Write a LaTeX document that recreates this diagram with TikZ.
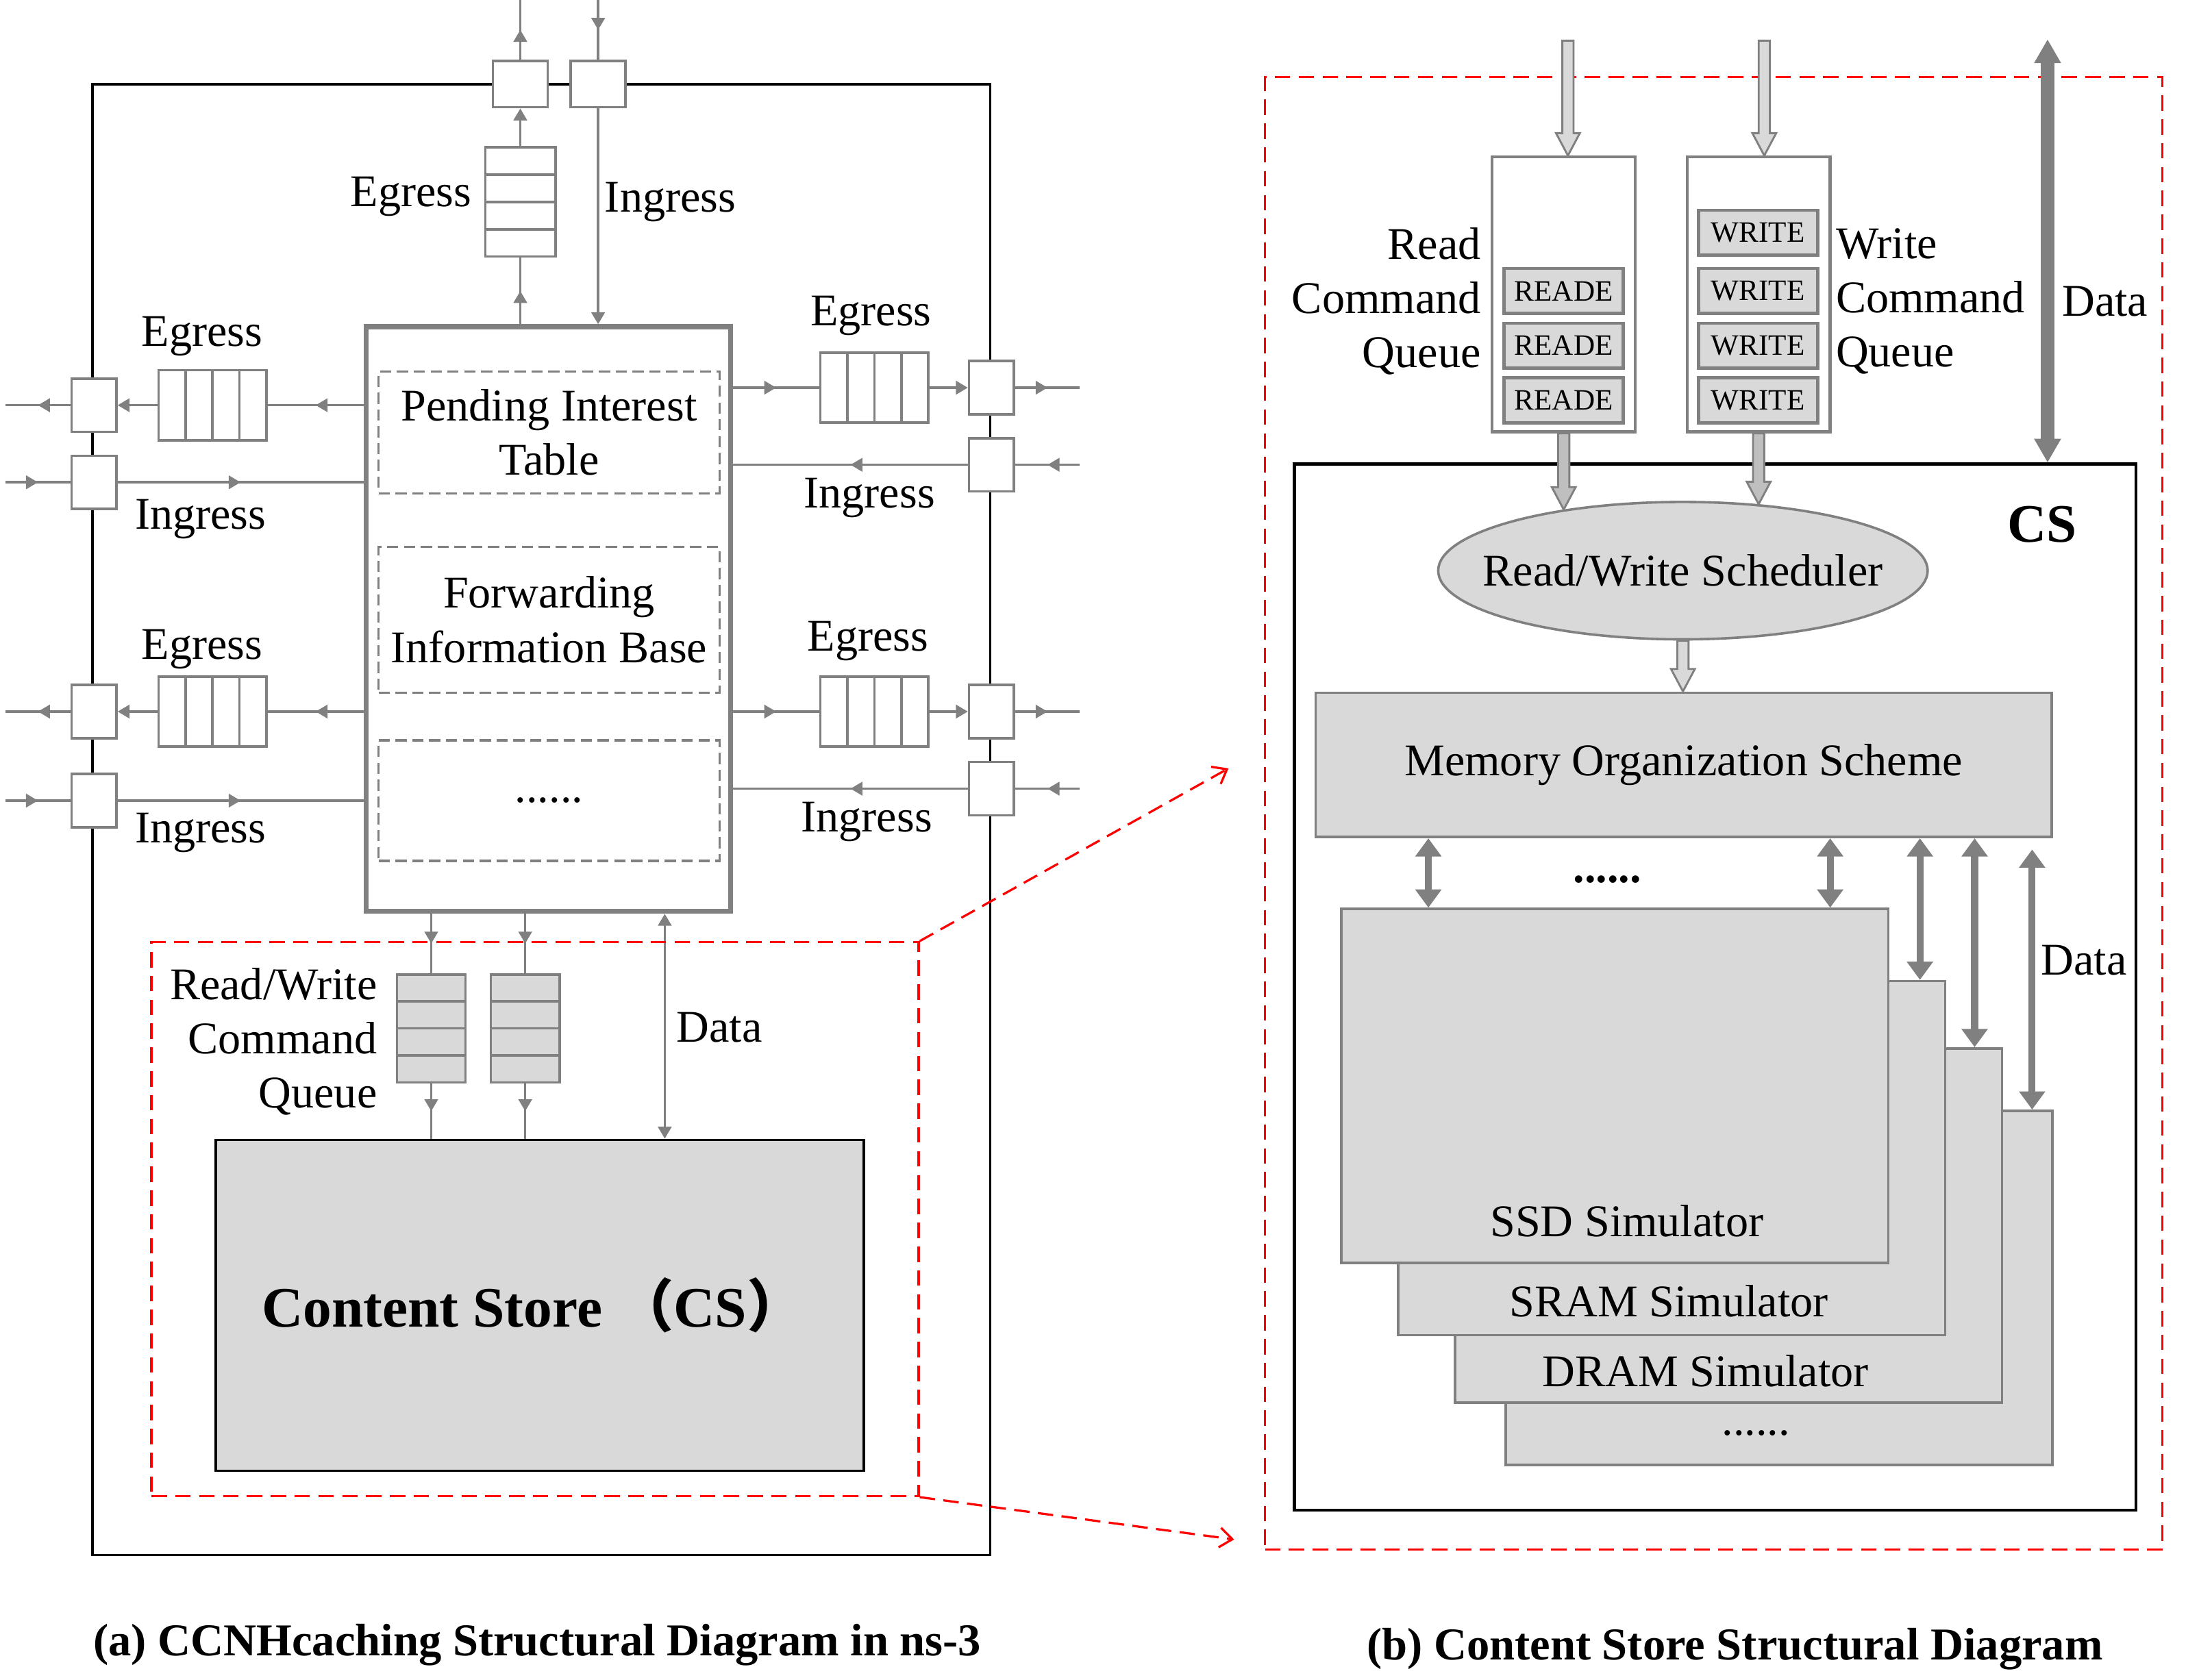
\documentclass[tikz,border=0pt]{standalone}
\usepackage{fontspec}
\setmainfont{Liberation Serif}
\newfontfamily\cjk{Noto Sans CJK SC}
\usetikzlibrary{arrows.meta,calc,decorations.markings,shapes.geometric}
\newcommand\lblfont{\fontsize{18.4}{22}\selectfont}
\newcommand\csfont{\bfseries\fontsize{22}{26}\selectfont}

\begin{document}
\begin{tikzpicture}[
  lbl/.style      = {font=\lblfont, inner sep=1pt, align=center},
  captext/.style  = {font=\bfseries\fontsize{18.5}{22}\selectfont, inner sep=0pt, anchor=base},
  routerbox/.style= {draw, line width=1pt, inner sep=0pt,
                     minimum width=12.8cm, minimum height=20.98cm},
  tablebox/.style = {draw=gray, line width=2pt, inner sep=0pt,
                     minimum width=5.2cm, minimum height=8.34cm},
  dashbox/.style  = {draw=gray, line width=0.9pt, dash pattern=on 1.6mm off 0.8mm,
                     inner sep=0pt, minimum width=4.86cm, font=\lblfont, align=center},
  sport/.style    = {draw=gray, line width=1pt, fill=white, inner sep=0pt,
                     minimum width=0.64cm, minimum height=0.76cm},
  tport/.style    = {sport, minimum width=0.78cm, minimum height=0.66cm},
  hqueue/.style   = {draw=gray, line width=1pt, fill=white, inner sep=0pt,
                     minimum width=1.54cm, minimum height=1cm,
                     path picture={\foreach \f in {0.25,0.5,0.75}
                       \draw[gray, line width=1pt]
                         ($(path picture bounding box.north west)!\f!(path picture bounding box.north east)$)
                      -- ($(path picture bounding box.south west)!\f!(path picture bounding box.south east)$);}},
  vqueue/.style   = {draw=gray, line width=1pt, fill=white, inner sep=0pt,
                     minimum width=1cm, minimum height=1.56cm,
                     path picture={\foreach \f in {0.25,0.5,0.75}
                       \draw[gray, line width=1pt]
                         ($(path picture bounding box.north west)!\f!(path picture bounding box.south west)$)
                      -- ($(path picture bounding box.north east)!\f!(path picture bounding box.south east)$);}},
  rwq/.style      = {vqueue, fill=gray!30, minimum width=0.98cm, minimum height=1.54cm},
  csbox/.style    = {draw, line width=1pt, fill=gray!30, inner sep=0pt,
                     minimum width=9.24cm, minimum height=4.72cm},
  redbox/.style   = {draw=red, line width=0.9pt, dash pattern=on 2.2mm off 1.2mm, inner sep=0pt},
  redlink/.style  = {red, line width=0.9pt, dash pattern=on 2.2mm off 1.2mm,
                     -{Straight Barb[length=1.8mm,width=2.8mm]}},
  gline/.style    = {gray, line width=1pt},
  garrow/.style   = {gline, -{Triangle[length=1.7mm,width=1.9mm]}},
  gboth/.style    = {gline, {Triangle[length=1.7mm,width=1.9mm]}-{Triangle[length=1.7mm,width=1.9mm]}},
  midarr/.style   = {gline, postaction={decorate}, decoration={markings,
                     mark=at position 0.5 with {\arrow{Triangle[length=1.7mm,width=1.9mm]}}}},
  % right panel
  csframe/.style  = {draw, line width=1.2pt, inner sep=0pt,
                     minimum width=12cm, minimum height=14.92cm},
  cmdq/.style     = {draw=gray, line width=1.2pt, fill=white, inner sep=0pt,
                     minimum width=2.04cm, minimum height=3.92cm},
  cmd/.style      = {draw=gray, line width=1.3pt, fill=gray!30, inner sep=0pt,
                     minimum width=1.7cm, minimum height=0.64cm,
                     font=\fontsize{12}{14}\selectfont},
  schedule/.style = {ellipse, draw=gray, line width=1pt, fill=gray!30, inner sep=0pt,
                     minimum width=6.98cm, minimum height=1.96cm},
  mosbox/.style   = {draw=gray, line width=1pt, fill=gray!30, inner sep=0pt,
                     minimum width=10.5cm, minimum height=2.06cm, font=\lblfont},
  simbox/.style   = {draw=gray, line width=1pt, fill=gray!30, inner sep=0pt,
                     minimum width=7.8cm, minimum height=5.05cm},
  fat/.style      = {draw=gray, line width=0.8pt, fill=#1,
                     to path={let \p1=(\tikztostart), \p2=(\tikztotarget) in
                       (\x1-0.08cm,\y1) -- (\x1-0.08cm,\y2+0.32cm) -- (\x1-0.17cm,\y2+0.32cm)
                       -- (\x1,\y2) -- (\x1+0.17cm,\y2+0.32cm) -- (\x1+0.08cm,\y2+0.32cm)
                       -- (\x1+0.08cm,\y1) -- cycle}},
  dbl/.style      = {gray, line width=2.8pt,
                     {Triangle[length=2.6mm,width=3.6mm]}-{Triangle[length=2.6mm,width=3.6mm]}},
  databig/.style  = {gray, line width=5.5pt,
                     {Triangle[length=3.4mm,width=3.6mm]}-{Triangle[length=3.4mm,width=3.6mm]}},
]
  \useasboundingbox (0,0) rectangle (31.36,-23.96);

  % (a) the node
  \node[routerbox] (router) at (7.72,-11.69) {};
  \node[tport] (tout) at (7.42,-1.2) {};
  \node[tport] (tin) at (8.53,-1.2) {};
  \node[vqueue] (qtop) at (7.42,-2.88) {};
  \node[tablebox] (tables) at (7.82,-8.83) {};
  \node[dashbox, minimum height=1.74cm] (pit) at (7.83,-6.17) {Pending Interest\\Table};
  \node[dashbox, minimum height=2.08cm] (fib) at (7.83,-8.84) {Forwarding\\Information Base};
  \node[dashbox, minimum height=1.72cm] (etc) at (7.83,-11.42) {......};

  \node[hqueue] (qle1) at (3.03,-5.78) {};
  \node[sport] (ple1) at (1.34,-5.78) {};
  \node[sport] (pli1) at (1.34,-6.88) {};
  \node[hqueue] (qle2) at (3.03,-10.15) {};
  \node[sport] (ple2) at (1.34,-10.15) {};
  \node[sport] (pli2) at (1.34,-11.42) {};
  \node[hqueue] (qre1) at (12.47,-5.53) {};
  \node[sport] (pre1) at (14.14,-5.53) {};
  \node[sport] (pri1) at (14.14,-6.63) {};
  \node[hqueue] (qre2) at (12.47,-10.15) {};
  \node[sport] (pre2) at (14.14,-10.15) {};
  \node[sport] (pri2) at (14.14,-11.25) {};

  % free ends of the faces
  \coordinate (eT) at (7.42,0);
  \coordinate (iT) at (8.53,0);
  \coordinate (eL1) at (0.08,-5.78);
  \coordinate (iL1) at (0.08,-6.88);
  \coordinate (eL2) at (0.08,-10.15);
  \coordinate (iL2) at (0.08,-11.42);
  \coordinate (eR1) at (15.4,-5.53);
  \coordinate (iR1) at (15.4,-6.63);
  \coordinate (eR2) at (15.4,-10.15);
  \coordinate (iR2) at (15.4,-11.25);

  \draw[midarr] (tables.north -| qtop) -- (qtop.south);
  \draw[garrow] (qtop.north) -- (tout.south);
  \draw[midarr] (tout.north) -- (eT);
  \draw[midarr] (iT) -- (tin.north);
  \draw[garrow] (tin.south) -- (tin.south |- tables.north);

  \draw[midarr] (qle1 -| tables.west) -- (qle1.east);
  \draw[garrow] (qle1.west) -- (ple1.east);
  \draw[midarr] (ple1.west) -- (eL1);
  \draw[midarr] (iL1) -- (pli1.west);
  \draw[midarr] (pli1.east) -- (pli1 -| tables.west);
  \draw[midarr] (qle2 -| tables.west) -- (qle2.east);
  \draw[garrow] (qle2.west) -- (ple2.east);
  \draw[midarr] (ple2.west) -- (eL2);
  \draw[midarr] (iL2) -- (pli2.west);
  \draw[midarr] (pli2.east) -- (pli2 -| tables.west);

  \draw[midarr] (qre1 -| tables.east) -- (qre1.west);
  \draw[garrow] (qre1.east) -- (pre1.west);
  \draw[midarr] (pre1.east) -- (eR1);
  \draw[midarr] (iR1) -- (pri1.east);
  \draw[midarr] (pri1.west) -- (pri1 -| tables.east);
  \draw[midarr] (qre2 -| tables.east) -- (qre2.west);
  \draw[garrow] (qre2.east) -- (pre2.west);
  \draw[midarr] (pre2.east) -- (eR2);
  \draw[midarr] (iR2) -- (pri2.east);
  \draw[midarr] (pri2.west) -- (pri2 -| tables.east);

  \node[lbl] (egT) at (5.86,-2.8) {Egress};
  \node[lbl] (inT) at (9.56,-2.88) {Ingress};
  \node[lbl] (egL1) at (2.88,-4.8) {Egress};
  \node[lbl] (inL1) at (2.86,-7.4) {Ingress};
  \node[lbl] (egL2) at (2.88,-9.26) {Egress};
  \node[lbl] (inL2) at (2.86,-11.88) {Ingress};
  \node[lbl] (egR1) at (12.42,-4.5) {Egress};
  \node[lbl] (inR1) at (12.4,-7.1) {Ingress};
  \node[lbl] (egR2) at (12.38,-9.14) {Egress};
  \node[lbl] (inR2) at (12.36,-11.72) {Ingress};

  % (a) the content store under the tables
  \node[rwq] (rw1) at (6.15,-14.67) {};
  \node[rwq] (rw2) at (7.49,-14.67) {};
  \node[csbox] (cs) at (7.7,-18.62) {};
  \node[lbl, font=\bfseries\fontsize{23.2}{27}\selectfont] (cslblA) at (7.6,-18.62)
    {Content Store {\cjk （}CS{\cjk ）}};
  \coordinate (dx) at (9.48,0);
  \draw[midarr] (rw1 |- tables.south) -- (rw1.north);
  \draw[midarr] (rw1.south) -- (rw1 |- cs.north);
  \draw[midarr] (rw2 |- tables.south) -- (rw2.north);
  \draw[midarr] (rw2.south) -- (rw2 |- cs.north);
  \draw[gboth] (dx |- tables.south) -- (dx |- cs.north);
  \node[lbl, anchor=east, align=right] (rwlbl) at (5.42,-14.86) {Read/Write\\Command\\Queue};
  \node[lbl] (dataA) at (10.26,-14.66) {Data};

  \node[redbox, minimum width=10.94cm, minimum height=7.9cm] (zoomA) at (7.63,-17.39) {};
  \coordinate (zA1) at (17.52,-10.96);
  \coordinate (zA2) at (17.6,-21.96);
  \draw[redlink] (zoomA.north east) -- (zA1);
  \draw[redlink] (zoomA.south east) -- (zA2);

  % (b) inside the content store
  \node[redbox, minimum width=12.8cm, minimum height=21cm] (zoomB) at (24.44,-11.6) {};
  \node[csframe] (csb) at (24.46,-14.08) {};
  \node[lbl, font=\csfont] (cslbl) at (29.12,-7.48) {CS};

  \node[cmdq] (rq) at (22.3,-4.2) {};
  \node[cmdq] (wq) at (25.08,-4.2) {};
  \node[cmd] (r1) at (22.3,-4.15) {READE};
  \node[cmd] (r2) at (22.3,-4.93) {READE};
  \node[cmd] (r3) at (22.3,-5.71) {READE};
  \node[cmd] (w0) at (25.07,-3.32) {WRITE};
  \node[cmd] (w1) at (25.07,-4.15) {WRITE};
  \node[cmd] (w2) at (25.07,-4.93) {WRITE};
  \node[cmd] (w3) at (25.07,-5.71) {WRITE};
  \node[lbl, anchor=east, align=right] (rqlbl) at (21.16,-4.3) {Read\\Command\\Queue};
  \node[lbl, anchor=west, align=left] (wqlbl) at (26.14,-4.3) {Write\\Command\\Queue};
  \node[lbl] (dataB) at (30.02,-4.3) {Data};

  \node[schedule] (sched) at (24.0,-8.14) {};
  \node[lbl] (schedlbl) at (sched) {Read/Write Scheduler};
  \node[mosbox] (mos) at (24.01,-10.91) {Memory Organization Scheme};

  \node[simbox] (more) at (25.37,-18.37) {};
  \node[simbox] (dram) at (24.65,-17.48) {};
  \node[simbox] (sram) at (23.84,-16.52) {};
  \node[simbox] (ssd) at (23.03,-15.49) {};
  \node[lbl] (ssdlbl) at (23.2,-17.42) {SSD Simulator};
  \node[lbl] (sramlbl) at (23.8,-18.56) {SRAM Simulator};
  \node[lbl] (dramlbl) at (24.32,-19.56) {DRAM Simulator};
  \node[lbl] (morelbl) at (25.04,-20.44) {......};

  \coordinate (rin) at (22.36,-0.58);
  \coordinate (win) at (25.16,-0.58);
  \draw[fat=gray!30] (rin) to (rq.north);
  \draw[fat=gray!30] (win) to (wq.north);
  \draw[fat=gray!50] (rq.south) to (sched.153);
  \draw[fat=gray!50] (wq.south) to (sched.41);
  \draw[fat=gray!30] (sched.south) to (mos.north);

  \coordinate (d1) at (20.37,0);
  \coordinate (d2) at (26.1,0);
  \coordinate (d3) at (27.38,0);
  \coordinate (d4) at (28.16,0);
  \coordinate (d5) at (28.98,0);
  \draw[dbl] (d1 |- mos.south) -- (d1 |- ssd.north);
  \draw[dbl] (d2 |- mos.south) -- (d2 |- ssd.north);
  \draw[dbl] (d3 |- mos.south) -- (d3 |- sram.north);
  \draw[dbl] (d4 |- mos.south) -- (d4 |- dram.north);
  \draw[dbl, shorten <=1.6mm] (d5 |- mos.south) -- (d5 |- more.north);
  \node[lbl, font=\bfseries\lblfont] (dots) at (22.92,-12.54) {......};
  \node[lbl] (dataC) at (29.72,-13.7) {Data};

  \coordinate (dtop) at (29.2,-0.56);
  \draw[databig] (dtop) -- (dtop |- csb.north);

  \node[captext] (capA) at (7.66,-23.62) {(a) CCNHcaching Structural Diagram in ns-3};
  \node[captext] (capB) at (24.74,-23.68) {(b) Content Store Structural Diagram};
\end{tikzpicture}
\end{document}
